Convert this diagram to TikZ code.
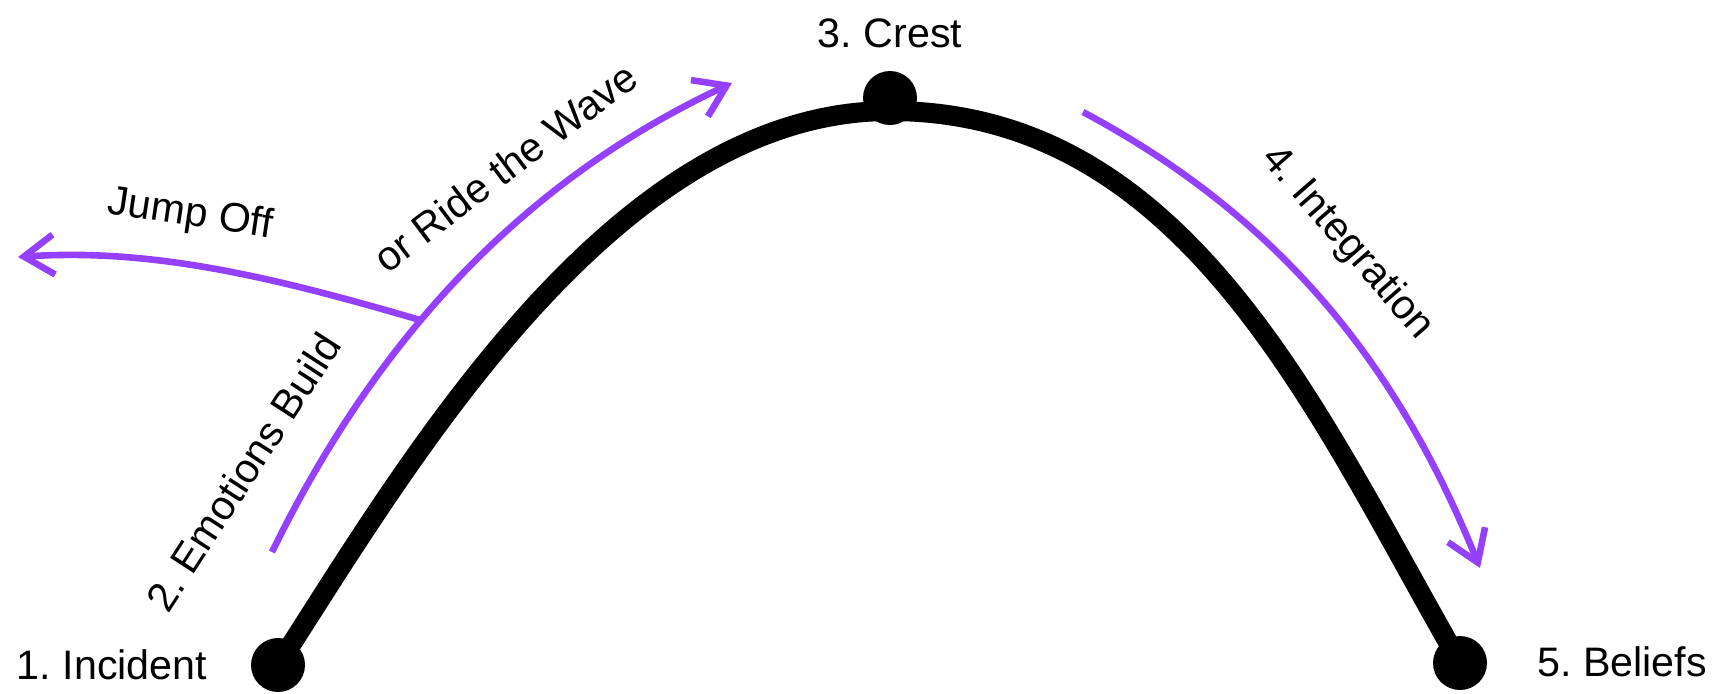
\documentclass[tikz,border=0pt]{standalone}
\usepackage{fontspec}
\setmainfont{Liberation Sans}
\usetikzlibrary{arrows.meta, backgrounds}

\definecolor{wavepurple}{RGB}{150,64,255}
\frenchspacing

\begin{document}
\begin{tikzpicture}[
    x=0.5pt, y=-0.5pt,
    >={Straight Barb[length=15pt, width=20pt]},
    wave_dot/.style={circle, fill=black, inner sep=0pt, minimum size=27pt},
    wave_line/.style={black, line width=10pt},
    flow_arrow/.style={wavepurple, line width=3.3pt},
    stage_label/.style={font=\fontsize{20.6pt}{24pt}\selectfont, inner sep=0pt}
]
    \useasboundingbox (0,0) rectangle (1717,693);

    % ======================================================================
    % WELLE
    % ======================================================================
    \node[wave_dot] (incident) at (278,665) {};
    \node[wave_dot] (crest) at (890,98) {};
    \node[wave_dot] (beliefs) at (1460,663) {};
    \coordinate (peak) at (890,111);

    \begin{scope}[on background layer]
        \draw[wave_line] (incident.center) .. controls (403,472) and (610,111) .. (peak)
            .. controls (1190,111) and (1320,421) .. (beliefs.center);
    \end{scope}

    % ======================================================================
    % PFEILE
    % ======================================================================
    \coordinate (ride_start) at (272,552);
    \coordinate (ride_end) at (732,83);
    \coordinate (jump_start) at (420,320);
    \coordinate (jump_end) at (18,257);
    \coordinate (integ_start) at (1083,112);
    \coordinate (integ_end) at (1480,568);

    \draw[flow_arrow, ->] (ride_start) .. controls (366,360) and (505,189) .. (ride_end);
    \draw[flow_arrow, ->] (jump_start) .. controls (270,276) and (150,248) .. (jump_end);
    \draw[flow_arrow, ->] (integ_start) .. controls (1295,225) and (1405,383) .. (integ_end);

    % ======================================================================
    % LABELS
    % ======================================================================
    \node[stage_label, anchor=base] (incident_lbl) at (112,679) {1. Incident};
    \node[stage_label, anchor=base] (crest_lbl) at (890,47) {3. Crest};
    \node[stage_label, anchor=base] (beliefs_lbl) at (1622,676) {5. Beliefs};
    \node[stage_label, rotate=57] (build_lbl) at (243,472) {2. Emotions Build};
    \node[stage_label, rotate=37] (ride_lbl) at (505,167) {or Ride the Wave};
    \node[stage_label, rotate=-8.5] (jump_lbl) at (190,215) {Jump Off};
    \node[stage_label, rotate=-49] (integ_lbl) at (1347,243) {4. Integration};

\end{tikzpicture}
\end{document}
